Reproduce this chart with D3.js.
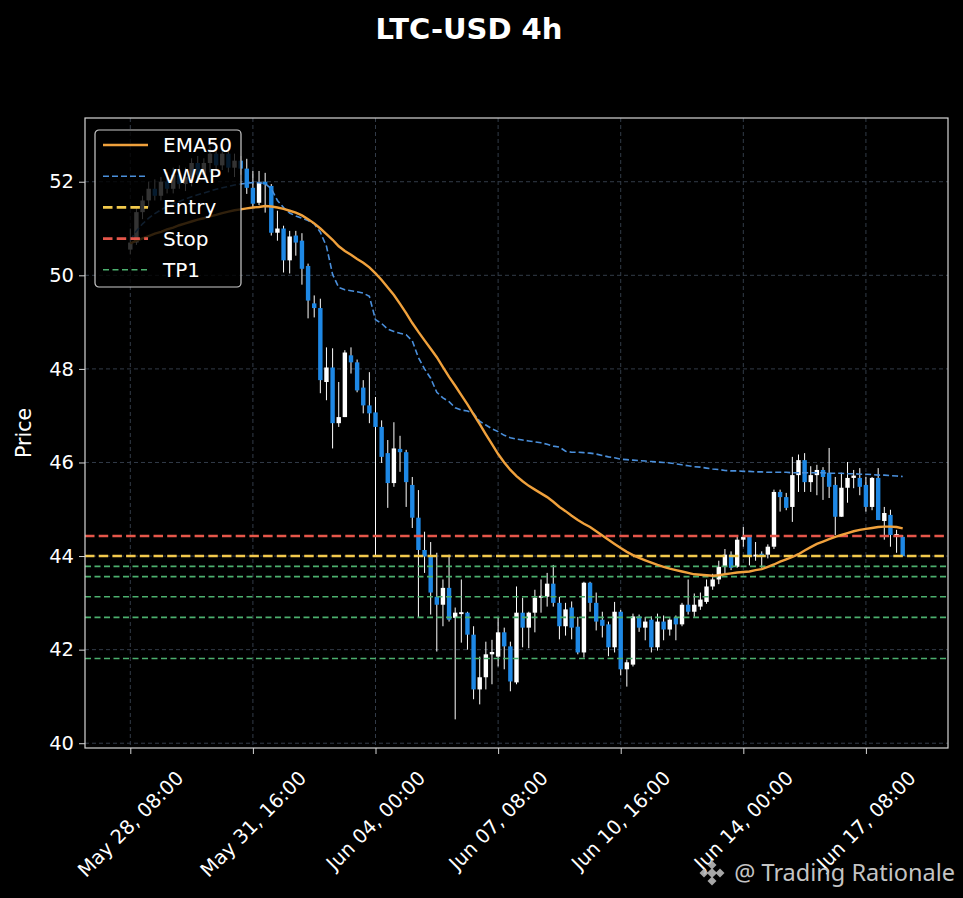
<!DOCTYPE html>
<html>
<head>
<meta charset="utf-8">
<script src="https://cdn.jsdelivr.net/npm/d3@7"></script>
<style>
  body { margin: 0; background: #000; }
  svg { display: block; }
  text { font-family: "DejaVu Sans", sans-serif; }
</style>
</head>
<body>
<div id="chart"></div>
<script>
// LTC-USD 4h candles (127 bars, May 28 08:00 -> Jun 18 08:00)
var open = [50.55,50.7,51.35,51.6,51.85,51.7,52.0,51.85,52.15,51.95,
  52.1,52.4,52.15,52.4,52.6,52.35,52.6,52.3,52.45,52.28,
  51.87,51.55,52.0,51.91,50.91,51.0,50.32,50.85,50.74,50.2,
  49.4,49.3,47.72,48.03,46.84,46.97,48.29,48.14,47.6,47.22,
  47.07,46.76,46.2,45.56,46.29,46.22,45.52,44.82,44.13,43.99,
  43.13,42.96,43.32,42.68,42.76,42.79,42.32,41.15,41.41,41.9,
  41.85,42.37,42.07,41.3,42.79,42.47,42.79,43.11,43.13,43.41,
  43.0,42.5,42.9,42.49,41.94,43.43,43.0,42.64,42.54,42.05,
  42.81,41.58,41.68,42.71,42.47,42.64,42.05,42.6,42.43,42.69,
  42.54,42.96,42.81,42.92,43.02,43.35,43.5,43.77,44.03,43.77,
  44.35,44.41,43.99,44.05,44.03,44.2,45.37,45.26,45.05,45.73,
  46.05,45.58,45.73,45.84,45.78,45.52,44.84,45.46,45.67,45.67,
  45.52,45.05,45.67,44.75,44.88,44.43,44.41];

var high = [51.0,51.45,51.7,52.0,52.05,52.1,52.2,52.3,52.35,52.3,
  52.5,52.55,52.5,52.75,52.7,52.7,52.75,52.6,52.55,52.49,
  52.23,52.23,52.19,51.95,51.38,51.06,50.95,50.95,50.9,50.25,
  49.57,49.5,48.46,48.44,47.72,48.4,48.46,48.2,47.76,47.93,
  47.4,46.9,46.48,46.86,46.57,46.27,45.69,45.41,44.52,44.3,
  44.07,43.5,44.03,42.9,43.5,42.81,42.5,41.85,42.17,42.21,
  42.69,42.47,42.17,43.35,43.11,42.81,43.28,43.5,43.64,43.81,
  43.13,43.0,43.03,42.7,43.45,43.45,43.22,42.81,42.6,43.02,
  42.85,41.79,42.77,42.75,42.7,42.71,42.77,42.73,42.67,42.73,
  43.0,43.5,43.2,43.22,43.5,43.62,43.9,44.15,44.1,44.42,
  44.62,44.43,44.3,44.1,44.25,45.42,45.42,45.35,46.12,46.17,
  46.2,45.92,45.95,45.9,46.31,45.69,45.78,46.01,45.84,45.88,
  45.69,45.69,45.88,45.05,44.99,44.56,44.45];

var low = [50.45,50.65,51.2,51.45,51.6,51.6,51.75,51.75,51.85,51.8,
  51.9,52.0,52.05,52.2,52.25,52.25,52.2,52.1,52.15,51.74,
  51.45,51.5,51.34,50.85,50.74,50.06,50.04,50.42,49.8,49.08,
  49.1,47.48,47.33,46.3,46.76,46.97,47.9,47.5,47.05,46.84,
  44.0,45.99,45.03,45.48,45.8,45.05,44.6,42.69,43.64,42.75,
  41.96,42.5,42.6,40.51,42.15,42.0,40.94,40.83,41.15,41.26,
  41.64,41.58,41.11,41.26,42.05,42.03,42.37,42.79,42.92,42.92,
  42.22,42.3,42.22,41.9,41.83,42.81,42.41,42.26,41.86,41.94,
  41.45,41.21,41.64,42.38,42.2,41.94,41.98,42.2,42.3,42.2,
  42.5,42.75,42.7,42.85,42.98,43.28,43.4,43.6,43.7,43.75,
  44.2,43.8,43.9,43.75,43.95,44.15,44.95,44.98,44.73,45.37,
  45.37,45.37,45.3,45.2,45.24,44.45,44.84,45.14,45.45,45.3,
  44.95,44.98,44.77,44.35,44.2,44.07,43.99];

var close = [50.7,51.35,51.6,51.85,51.7,52.0,51.85,52.15,51.95,52.1,
  52.4,52.15,52.4,52.6,52.35,52.6,52.3,52.45,52.28,51.87,
  51.53,51.98,51.94,50.91,51.0,50.32,50.83,50.7,50.14,49.46,
  49.3,47.76,48.03,46.84,46.97,48.35,48.14,47.54,47.22,47.05,
  46.76,46.12,45.56,46.3,46.22,45.58,44.82,44.13,43.99,43.22,
  42.96,43.32,42.64,42.79,42.8,42.32,41.15,41.41,41.9,41.95,
  42.37,42.07,41.32,42.79,42.47,42.79,43.11,43.15,43.41,43.0,
  42.5,42.86,42.47,41.94,43.43,43.0,42.6,42.51,42.05,42.81,
  41.58,41.73,42.71,42.47,42.6,42.05,42.6,42.43,42.64,42.54,
  42.96,42.81,42.96,43.07,43.35,43.5,43.77,44.03,43.75,44.35,
  44.41,43.99,44.03,43.99,44.2,45.37,45.26,45.03,45.73,46.05,
  45.58,45.73,45.84,45.69,45.48,44.84,45.46,45.67,45.72,45.48,
  45.05,45.67,44.77,44.92,44.45,44.47,44.0];

var ema50 = [50.68,50.74,50.79,50.84,50.89,50.93,50.98,51.02,51.07,51.11,
  51.15,51.19,51.22,51.26,51.29,51.33,51.36,51.39,51.41,51.43,
  51.45,51.46,51.48,51.47,51.45,51.42,51.38,51.34,51.28,51.2,
  51.11,51.0,50.88,50.76,50.62,50.52,50.44,50.35,50.27,50.17,
  50.04,49.9,49.74,49.58,49.39,49.19,48.98,48.79,48.61,48.43,
  48.25,48.04,47.83,47.64,47.44,47.24,47.03,46.82,46.6,46.39,
  46.18,46.0,45.84,45.71,45.6,45.5,45.42,45.34,45.26,45.16,
  45.05,44.96,44.86,44.77,44.69,44.62,44.53,44.44,44.35,44.26,
  44.17,44.09,44.02,43.96,43.91,43.86,43.81,43.77,43.73,43.7,
  43.67,43.64,43.61,43.6,43.59,43.58,43.59,43.61,43.63,43.65,
  43.66,43.67,43.7,43.72,43.77,43.82,43.88,43.93,43.98,44.04,
  44.12,44.19,44.26,44.31,44.36,44.41,44.45,44.49,44.53,44.56,
  44.58,44.6,44.62,44.63,44.63,44.62,44.59];

var vwap = [50.75,50.95,51.1,51.22,51.32,51.4,51.47,51.53,51.58,51.63,
  51.68,51.72,51.76,51.8,51.84,51.87,51.9,51.93,51.95,51.97,
  51.98,51.98,51.96,51.85,51.6,51.45,51.33,51.27,51.22,51.17,
  51.1,50.92,50.62,50.02,49.74,49.69,49.67,49.65,49.62,49.55,
  49.05,48.97,48.85,48.8,48.76,48.73,48.6,48.24,48.0,47.8,
  47.5,47.38,47.3,47.17,47.12,47.1,47.05,46.88,46.8,46.72,
  46.66,46.58,46.53,46.5,46.48,46.46,46.44,46.42,46.39,46.35,
  46.33,46.24,46.22,46.22,46.21,46.2,46.18,46.15,46.12,46.1,
  46.07,46.06,46.05,46.04,46.03,46.02,46.01,46.0,45.99,45.97,
  45.95,45.93,45.91,45.9,45.88,45.86,45.85,45.83,45.82,45.82,
  45.81,45.81,45.8,45.8,45.79,45.79,45.79,45.79,45.78,45.78,
  45.78,45.78,45.78,45.78,45.77,45.77,45.77,45.76,45.76,45.75,
  45.75,45.74,45.73,45.73,45.72,45.71,45.7];

// trade levels
var entry = 44.0;
var stop = 44.43;
var targets = [43.78, 43.56, 43.13, 42.69, 41.81];

// axis ticks
var tickIndex = [0, 20, 40, 60, 80, 100, 120];
var tickLabels = ["May 28, 08:00", "May 31, 16:00", "Jun 04, 00:00", "Jun 07, 08:00",
                  "Jun 10, 16:00", "Jun 14, 00:00", "Jun 17, 08:00"];
var priceTicks = [40, 42, 44, 46, 48, 50, 52];

var W = 963, H = 898;
var margin = {left: 85, top: 118, right: 15, bottom: 150};
var pw = W - margin.left - margin.right,
    ph = H - margin.top - margin.bottom;

var n = close.length;
var bars = d3.range(n).map(function(i) {
  return {i: i, o: open[i], h: high[i], l: low[i], c: close[i]};
});

var svg = d3.select("#chart").append("svg")
    .attr("width", W)
    .attr("height", H);

svg.append("rect").attr("width", W).attr("height", H).attr("fill", "#000");

// title
svg.append("text")
    .attr("x", 469).attr("y", 39)
    .attr("text-anchor", "middle")
    .attr("fill", "#fff")
    .style("font-size", "29px")
    .style("font-weight", "bold")
    .text("LTC-USD 4h");

var g = svg.append("g").attr("transform", "translate(" + margin.left + "," + margin.top + ")");

// x padding on both sides of the bars
var pad = 7.39;
var x = d3.scaleLinear().domain([-pad, n - 1 + pad]).range([0, pw]);

var lo = d3.min(low), hi = d3.max(high), span = hi - lo;
var y = d3.scaleLinear().domain([lo - span * 0.05, hi + span * 0.05]).range([ph, 0]);

// grid
g.append("g").selectAll("line").data(priceTicks).enter().append("line")
    .attr("x1", 0).attr("x2", pw)
    .attr("y1", function(d) { return y(d); }).attr("y2", function(d) { return y(d); })
    .attr("stroke", "#323b48").attr("stroke-width", 1).attr("stroke-dasharray", "4,3");
g.append("g").selectAll("line").data(tickIndex).enter().append("line")
    .attr("y1", 0).attr("y2", ph)
    .attr("x1", function(d) { return x(d); }).attr("x2", function(d) { return x(d); })
    .attr("stroke", "#323b48").attr("stroke-width", 1).attr("stroke-dasharray", "4,3");

// candles
var up = "#ffffff", down = "#1e88e5";
var bw = 4.4;
var candles = g.append("g");
candles.selectAll("line").data(bars).enter().append("line")
    .attr("x1", function(d) { return x(d.i); }).attr("x2", function(d) { return x(d.i); })
    .attr("y1", function(d) { return y(d.h); }).attr("y2", function(d) { return y(d.l); })
    .attr("stroke", "#fff").attr("stroke-width", 1);
candles.selectAll("rect").data(bars).enter().append("rect")
    .attr("x", function(d) { return x(d.i) - bw / 2; })
    .attr("width", bw)
    .attr("y", function(d) { return y(Math.max(d.o, d.c)); })
    .attr("height", function(d) { return Math.max(1, Math.abs(y(d.o) - y(d.c))); })
    .attr("fill", function(d) { return d.c >= d.o ? up : down; });

// level lines
var levels = g.append("g");
levels.selectAll("line.tp").data(targets).enter().append("line")
    .attr("class", "tp")
    .attr("x1", 0).attr("x2", pw)
    .attr("y1", function(d) { return y(d); }).attr("y2", function(d) { return y(d); })
    .attr("stroke", "#4caf6e").attr("stroke-width", 1.6).attr("stroke-dasharray", "6,3.5");
levels.append("line")
    .attr("x1", 0).attr("x2", pw).attr("y1", y(entry)).attr("y2", y(entry))
    .attr("stroke", "#f2c94c").attr("stroke-width", 2.6).attr("stroke-dasharray", "9.5,4.2");
levels.append("line")
    .attr("x1", 0).attr("x2", pw).attr("y1", y(stop)).attr("y2", y(stop))
    .attr("stroke", "#e5564a").attr("stroke-width", 2.6).attr("stroke-dasharray", "9.5,4.2");

// indicator lines
var line = d3.line().x(function(d, i) { return x(i); }).y(function(d) { return y(d); });
g.append("path").datum(vwap)
    .attr("d", line).attr("fill", "none")
    .attr("stroke", "#4a8fdb").attr("stroke-width", 1.6).attr("stroke-dasharray", "6,3");
g.append("path").datum(ema50)
    .attr("d", line).attr("fill", "none")
    .attr("stroke", "#f0a13c").attr("stroke-width", 2.4);

// frame
g.append("rect").attr("width", pw).attr("height", ph)
    .attr("fill", "none").attr("stroke", "#d6d6d6").attr("stroke-width", 1.2);

// axes
var yAxis = g.append("g")
    .call(d3.axisLeft(y).tickValues(priceTicks).tickSize(6).tickPadding(5).tickFormat(d3.format("d")));
var xAxis = g.append("g").attr("transform", "translate(0," + ph + ")")
    .call(d3.axisBottom(x).tickValues(tickIndex).tickSize(6)
      .tickFormat(function(d, i) { return tickLabels[i]; }));
[yAxis, xAxis].forEach(function(a) {
  a.select(".domain").remove();
  a.selectAll(".tick line").attr("stroke", "#d6d6d6");
  a.selectAll(".tick text").attr("fill", "#fff").style("font-size", "19.5px")
    .style("font-family", "'DejaVu Sans', sans-serif");
});
xAxis.selectAll(".tick text").each(function() {
  var t = d3.select(this);
  var L = this.getComputedTextLength();
  var half = (L + 19) / (2 * Math.SQRT2);
  t.attr("y", null).attr("dy", null)
    .attr("text-anchor", "middle")
    .attr("dominant-baseline", "central")
    .attr("transform", "translate(0," + (20 + half) + ") rotate(-45)");
});

// y label
svg.append("text")
    .attr("transform", "translate(31," + (margin.top + ph / 2) + ") rotate(-90)")
    .attr("text-anchor", "middle")
    .attr("fill", "#fff")
    .style("font-size", "20.5px")
    .text("Price");

// legend
var legendItems = [
  {label: "EMA50", color: "#f0a13c", width: 2.4, dash: null},
  {label: "VWAP", color: "#4a8fdb", width: 1.6, dash: "6,3"},
  {label: "Entry", color: "#f2c94c", width: 2.6, dash: "9.5,4.2"},
  {label: "Stop", color: "#e5564a", width: 2.6, dash: "9.5,4.2"},
  {label: "TP1", color: "#4caf6e", width: 1.6, dash: "6,3.5"}
];
var lg = svg.append("g").attr("transform", "translate(95,130)");
lg.append("rect").attr("width", 146).attr("height", 157).attr("rx", 4)
    .attr("fill", "#000").attr("fill-opacity", 0.8)
    .attr("stroke", "#cccccc").attr("stroke-width", 1.2);
var row = lg.selectAll("g").data(legendItems).enter().append("g")
    .attr("transform", function(d, i) { return "translate(0," + (15 + i * 31.2) + ")"; });
row.append("line").attr("x1", 8).attr("x2", 53)
    .attr("stroke", function(d) { return d.color; })
    .attr("stroke-width", function(d) { return d.width; })
    .attr("stroke-dasharray", function(d) { return d.dash; });
row.append("text").attr("x", 68).attr("dominant-baseline", "central")
    .attr("fill", "#fff").style("font-size", "20px")
    .text(function(d) { return d.label; });

// watermark
var wm = svg.append("g").attr("transform", "translate(712,873)").attr("fill", "#b8b8b8").attr("opacity", 0.9);
[[0, -8, 3.2], [-8, 0, 3.2], [8, 0, 3.2], [0, 8, 3.2], [0, 0, 3.6]].forEach(function(p) {
  wm.append("rect").attr("x", -p[2]).attr("y", -p[2]).attr("width", 2 * p[2]).attr("height", 2 * p[2])
    .attr("transform", "translate(" + p[0] + "," + p[1] + ") rotate(45)");
});
svg.append("text")
    .attr("x", 955).attr("y", 881)
    .attr("text-anchor", "end")
    .attr("fill", "#c4c4c4")
    .style("font-family", "'Noto Sans', sans-serif")
    .style("font-size", "23.5px")
    .text("@ Trading Rationale");
</script>
</body>
</html>
